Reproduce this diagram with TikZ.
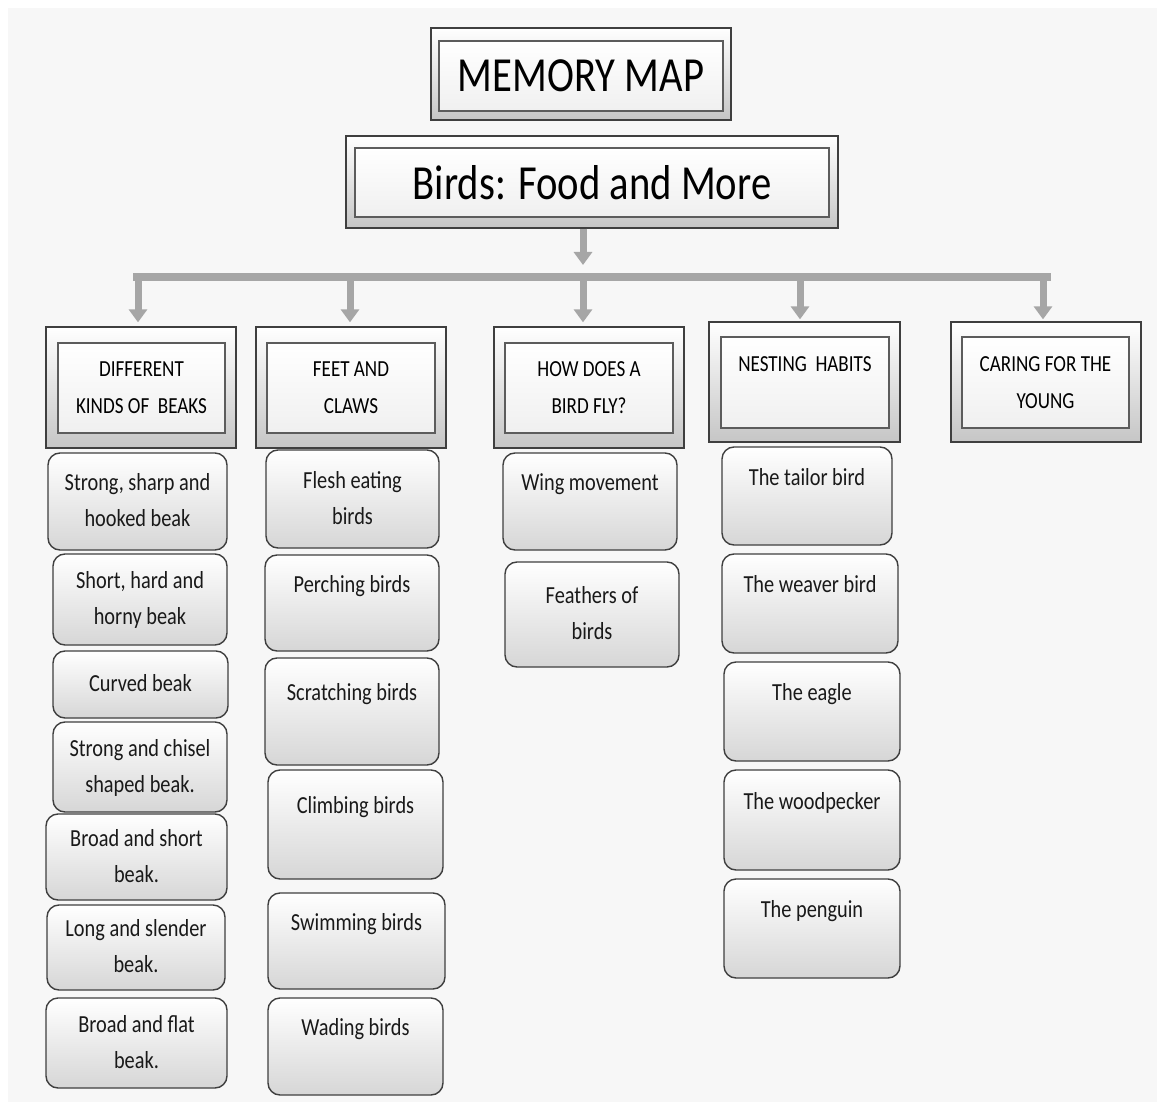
\documentclass[tikz,border=0pt]{standalone}
\usepackage{fontspec}
\setmainfont{Carlito}[FakeStretch=0.83]
\usetikzlibrary{arrows.meta,shadings}
\definecolor{bg}{HTML}{F7F7F7}
\definecolor{arr}{HTML}{A6A6A6}
\definecolor{frame}{HTML}{3F3F3F}
\newcommand\twol[2]{#1\strut\\#2\strut}
\newcommand\onel[1]{#1\strut\\\strut}
\tikzset{
  outerbox/.style={draw=frame, line width=1.3pt, top color=white, bottom color=gray!45, inner sep=0pt},
  innerbox/.style={draw=frame!85, line width=1.8pt, top color=white, bottom color=gray!12, inner sep=0pt, align=center, text=black},
  headtext/.style={font=\fontsize{23}{37}\selectfont},
  titletext/.style={font=\fontsize{49}{58}\selectfont},
  itembox/.style={draw=frame, line width=1.4pt, rounded corners=12pt, top color=white, bottom color=gray!32, inner sep=0pt, align=center, font=\fontsize{24.5}{36}\selectfont, text=black!90},
  drop/.style={draw=arr, line width=7pt, -{Triangle[width=18pt,length=13pt]}},
  barline/.style={draw=arr, line width=8pt},
}
\begin{document}
\begin{tikzpicture}[x=1pt,y=-1pt]
\useasboundingbox (0,0) rectangle (1157,1102);
\fill[white] (0,0) rectangle (1157,1102);
\fill[bg] (8,8) rectangle (1157,1102);

% title boxes
\node[outerbox, minimum width=300, minimum height=92] (t) at (581,74) {};
\node[innerbox, titletext, minimum width=284, minimum height=70] (ti) at (581,76) {MEMORY MAP};
\node[outerbox, minimum width=492, minimum height=92] (b) at (592,182) {};
\node[innerbox, titletext, minimum width=474, minimum height=69] (bi) at (592,182.5) {Birds: Food and More};

% header boxes
\node[outerbox, minimum width=190, minimum height=121] (h1) at (141,387.5) {};
\node[innerbox, headtext, minimum width=167, minimum height=90] (h1i) at (141.5,388) {\twol{DIFFERENT}{KINDS OF\ \ BEAKS}};
\node[outerbox, minimum width=190, minimum height=121] (h2) at (351,387.5) {};
\node[innerbox, headtext, minimum width=168, minimum height=90] (h2i) at (351,388) {\twol{FEET AND}{CLAWS}};
\node[outerbox, minimum width=190, minimum height=121] (h3) at (589,387.5) {};
\node[innerbox, headtext, minimum width=168, minimum height=90] (h3i) at (589,388) {\twol{HOW DOES A}{BIRD FLY?}};
\node[outerbox, minimum width=191, minimum height=120] (h4) at (804.5,382) {};
\node[innerbox, headtext, minimum width=168, minimum height=91] (h4i) at (805,382.5) {\onel{NESTING\ \ HABITS}};
\node[outerbox, minimum width=190, minimum height=120] (h5) at (1046,382) {};
\node[innerbox, headtext, minimum width=167, minimum height=91] (h5i) at (1045.5,382.5) {\twol{CARING FOR THE}{YOUNG}};

% connectors
\coordinate (bt) at (583,265);
\coordinate (barL) at (133,277);
\coordinate (barR) at (1051,277);
\draw[drop] (bt |- b.south) -- (bt);
\draw[barline] (barL) -- (barR);
\coordinate (k1) at (138,277);
\coordinate (k2) at (350,277);
\coordinate (k3) at (583,277);
\coordinate (k4) at (800,277);
\coordinate (k5) at (1043,277);
\draw[drop, shorten >=4pt] (k1) -- (k1 |- h1.north);
\draw[drop, shorten >=4pt] (k2) -- (k2 |- h2.north);
\draw[drop, shorten >=4pt] (k3) -- (k3 |- h3.north);
\draw[drop, shorten >=2pt] (k4) -- (k4 |- h4.north);
\draw[drop, shorten >=2pt] (k5) -- (k5 |- h5.north);

% column 1
\node[itembox, minimum width=179, minimum height=97] (a1) at (137.5,501.5) {\twol{Strong, sharp and}{hooked beak}};
\node[itembox, minimum width=174, minimum height=91] (a2) at (140,599.5) {\twol{Short, hard and}{horny beak}};
\node[itembox, minimum width=175, minimum height=67] (a3) at (140.5,684.5) {Curved beak\strut};
\node[itembox, minimum width=174, minimum height=90] (a4) at (140,767) {\twol{Strong and chisel}{shaped beak.}};
\node[itembox, minimum width=181, minimum height=86] (a5) at (136.5,857) {\twol{Broad and short}{beak.}};
\node[itembox, minimum width=178, minimum height=85] (a6) at (136,947.5) {\twol{Long and slender}{beak.}};
\node[itembox, minimum width=181, minimum height=90] (a7) at (136.5,1043) {\twol{Broad and flat}{beak.}};

% column 2
\node[itembox, minimum width=173, minimum height=98] (b1) at (352.5,499) {\twol{Flesh eating}{birds}};
\node[itembox, minimum width=174, minimum height=96] (b2) at (352,603) {\onel{Perching birds}};
\node[itembox, minimum width=174, minimum height=107] (b3) at (352,711.5) {\onel{Scratching birds}};
\node[itembox, minimum width=175, minimum height=109] (b4) at (355.5,824.5) {\onel{Climbing birds}};
\node[itembox, minimum width=177, minimum height=96] (b5) at (356.5,941) {\onel{Swimming birds}};
\node[itembox, minimum width=175, minimum height=97] (b6) at (355.5,1046.5) {\onel{Wading birds}};

% column 3
\node[itembox, minimum width=174, minimum height=97] (c1) at (590,501.5) {\onel{Wing movement}};
\node[itembox, minimum width=174, minimum height=105] (c2) at (592,614.5) {\twol{Feathers of}{birds}};

% column 4
\node[itembox, minimum width=170, minimum height=98] (d1) at (807,496) {\onel{The tailor bird}};
\node[itembox, minimum width=176, minimum height=99] (d2) at (810,603.5) {\onel{The weaver bird}};
\node[itembox, minimum width=176, minimum height=99] (d3) at (812,711.5) {\onel{The eagle}};
\node[itembox, minimum width=176, minimum height=100] (d4) at (812,820) {\onel{The woodpecker}};
\node[itembox, minimum width=176, minimum height=99] (d5) at (812,928.5) {\onel{The penguin}};
\end{tikzpicture}
\end{document}
